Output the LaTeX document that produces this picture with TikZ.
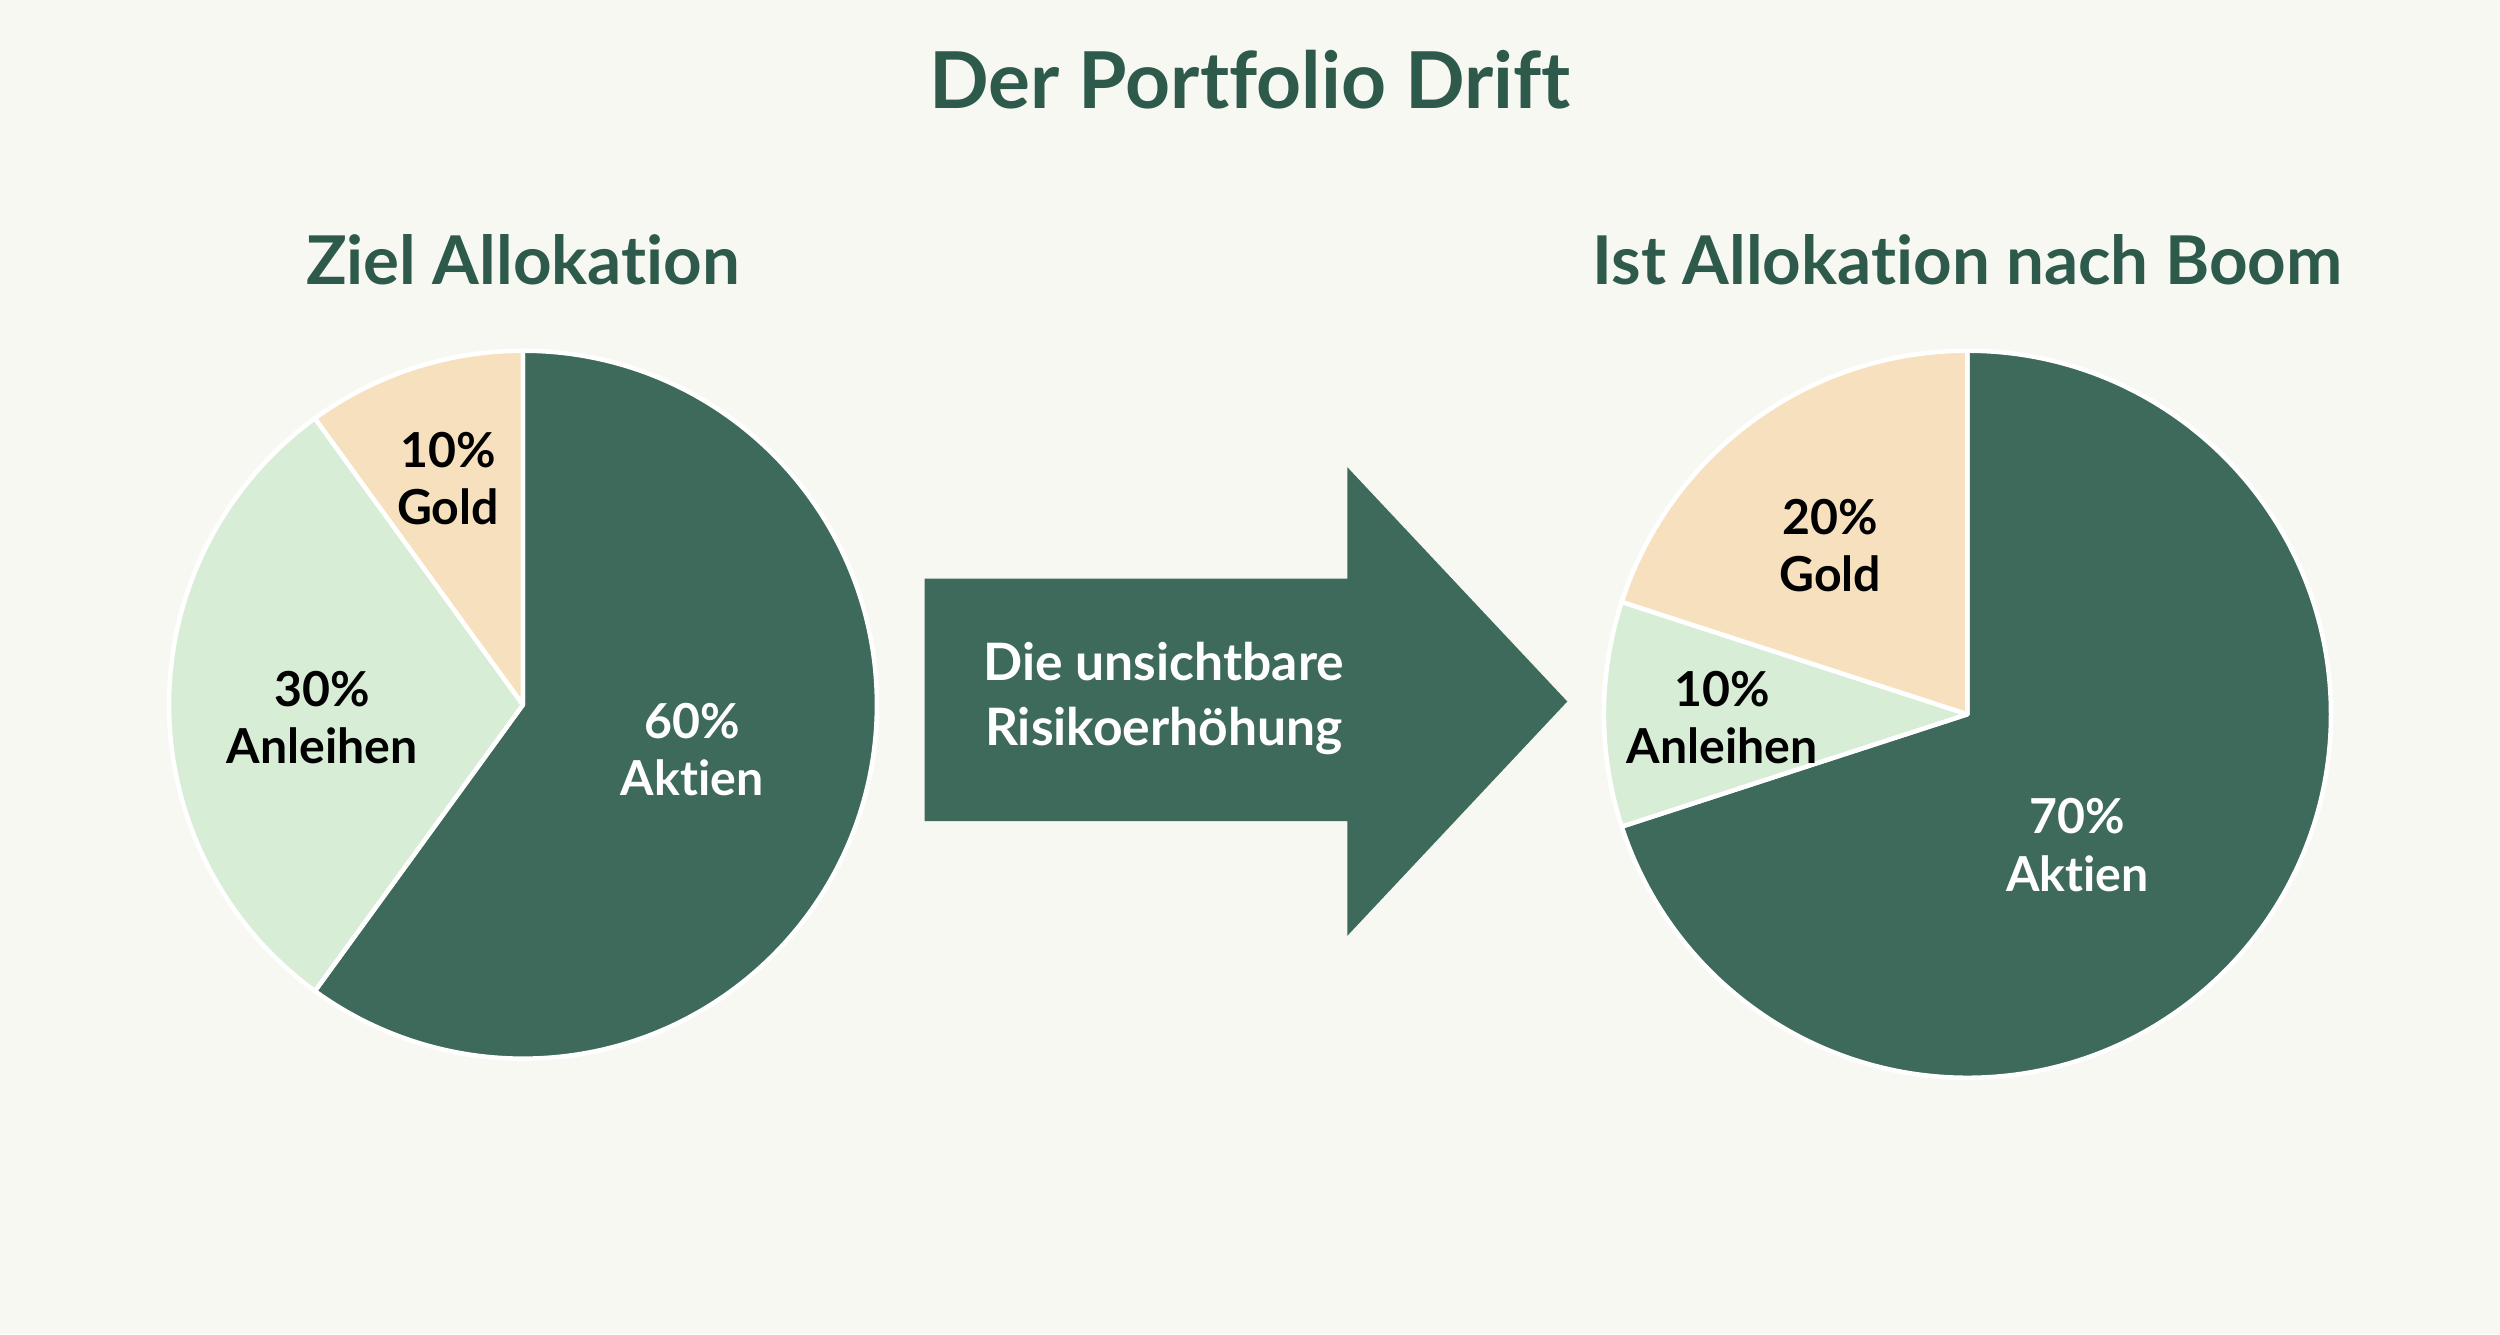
\documentclass[tikz,border=0pt]{standalone}
\usepackage{fontspec}
\setmainfont[Ligatures=NoCommon]{Lato}
\definecolor{bg}{HTML}{F8F8F3}
\definecolor{dk}{HTML}{3E6A5B}
\definecolor{ttl}{HTML}{2E5A4B}
\definecolor{lg}{HTML}{D8EDD6}
\definecolor{bz}{HTML}{F7E0BE}
\begin{document}
\begin{tikzpicture}[x=0.01cm,y=0.01cm,
  slice/.style={draw=white,line width=0.8pt,line join=round},
  lbl/.style={font=\bfseries\fontsize{8.6}{10.2}\selectfont,align=center},
  head/.style={font=\bfseries\fontsize{12}{15}\selectfont,text=ttl}]
\fill[bg] (0,0) rectangle (1568,837);
\useasboundingbox (0,0) rectangle (1568,837);
\node[font=\bfseries\fontsize{14}{16}\selectfont,text=ttl] (title) at (784,787) {Der Portfolio Drift};
\node[head] (h1) at (328,674) {Ziel Allokation};
\node[head] (h2) at (1234,674) {Ist Allokation nach Boom};
% left pie
\coordinate (c1) at (328,395);
\filldraw[slice,fill=dk] (c1) -- ++(90:222) arc[start angle=90,end angle=-126,radius=222] -- cycle;
\filldraw[slice,fill=lg] (c1) -- ++(234:222) arc[start angle=234,end angle=126,radius=222] -- cycle;
\filldraw[slice,fill=bz] (c1) -- ++(126:222) arc[start angle=126,end angle=90,radius=222] -- cycle;
\node[lbl] (l1) at (281,537) {10\%\\Gold};
\node[lbl] (l2) at (202,387) {30\%\\Anleihen};
\node[lbl,text=white] (l3) at (434,367) {60\%\\Aktien};
% right pie
\coordinate (c2) at (1234,389);
\filldraw[slice,fill=dk] (c2) -- ++(90:228) arc[start angle=90,end angle=-162,radius=228] -- cycle;
\filldraw[slice,fill=lg] (c2) -- ++(198:228) arc[start angle=198,end angle=162,radius=228] -- cycle;
\filldraw[slice,fill=bz] (c2) -- ++(162:228) arc[start angle=162,end angle=90,radius=228] -- cycle;
\node[lbl] (r1) at (1148,495) {20\%\\Gold};
\node[lbl] (r2) at (1080,387) {10\%\\Anleihen};
\node[lbl,text=white] (r3) at (1303,307) {70\%\\Aktien};
% arrow
\fill[dk] (580,474) -- (845,474) -- (845,544) -- (983,397) -- (845,250) -- (845,322) -- (580,322) -- cycle;
\node[lbl,text=white,font=\bfseries\fontsize{9.2}{11.5}\selectfont] (at) at (730,399) {Die unsichtbare\\Risikoerhöhung};
\end{tikzpicture}
\end{document}
